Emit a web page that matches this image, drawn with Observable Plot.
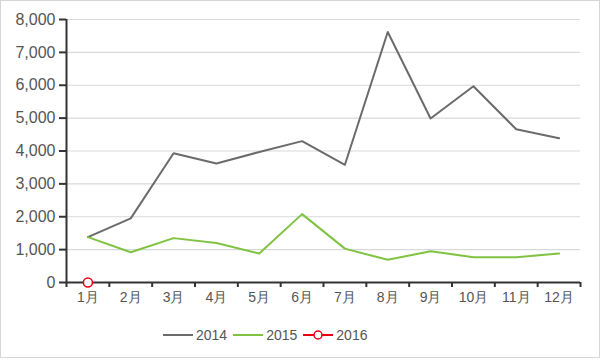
<!DOCTYPE html>
<html><head><meta charset="utf-8">
<script src="https://cdn.jsdelivr.net/npm/d3@7"></script>
<script src="https://cdn.jsdelivr.net/npm/@observablehq/plot@0.6"></script>
<style>
body{margin:0;background:#fff;}
#frame{position:relative;width:598px;height:356px;border:1px solid #d6d6d6;background:#fff;overflow:hidden;font-family:"Liberation Sans",Arial,sans-serif;}
#legend{height:46px;display:flex;align-items:center;justify-content:flex-start;padding-left:162px;font-size:14px;color:#555;}
.item{display:flex;align-items:center;margin-right:6px;}
.item svg{margin-right:3px;}
</style>
</head><body>
<div id="frame"><div id="chart"></div><div id="legend"></div></div>
<script>
const months = ["1月","2月","3月","4月","5月","6月","7月","8月","9月","10月","11月","12月"];
const sales2014 = [1380,1950,3930,3620,3970,4300,3580,7620,4990,5970,4660,4390];
const sales2015 = [1380,920,1350,1200,880,2080,1030,690,950,770,770,880];
const sales2016 = [0];
const yTicks = [0,1000,2000,3000,4000,5000,6000,7000,8000];
const seriesNames = ["2014","2015","2016"];
const colors = ["#6b6b6b","#80c241","#e60012"];

const idx = months.map((m,i)=>i);
const bounds = d3.range(-0.5, 12, 1);

const chart = Plot.plot({
  width: 598, height: 311,
  marginLeft: 65, marginRight: 19, marginTop: 18, marginBottom: 30,
  style: {fontFamily: '"Liberation Sans", Arial, sans-serif', color: "#555", background: "#fff"},
  x: {type: "linear", domain: [-0.5, 11.5]},
  y: {domain: [0, 8000]},
  marks: [
    Plot.gridY(yTicks, {stroke: "#d9d9d9", strokeOpacity: 1, strokeWidth: 1.2}),
    Plot.axisY(yTicks, {tickSize: 7, tickPadding: 4, tickFormat: d3.format(","), fontSize: 16, stroke: "#333", strokeWidth: 2, fill: "#555", label: null}),
    Plot.axisX(idx, {tickSize: 0, tickPadding: 10, tickFormat: i => months[i], fontSize: 14, fill: "#555", label: null}),
    Plot.axisX(bounds, {tickSize: 5, tickFormat: () => "", stroke: "#333", strokeWidth: 2, label: null}),
    Plot.ruleX([-0.5], {stroke: "#333", strokeWidth: 2}),
    Plot.ruleY([0], {stroke: "#333", strokeWidth: 2}),
    Plot.line(idx, {x: i => i, y: i => sales2014[i], stroke: colors[0], strokeWidth: 2}),
    Plot.line(idx, {x: i => i, y: i => sales2015[i], stroke: colors[1], strokeWidth: 2}),
    Plot.dot(sales2016, {x: (d,i) => i, y: d => d, r: 4.5, stroke: colors[2], strokeWidth: 1.5, fill: "#fff"})
  ]
});
document.getElementById("chart").appendChild(chart);

const legend = document.getElementById("legend");
seriesNames.forEach((name, k) => {
  const item = document.createElement("div");
  item.className = "item";
  const marker = k === 2
    ? `<circle cx="15" cy="6" r="4" fill="#fff" stroke="${colors[k]}" stroke-width="1.5"/>`
    : "";
  item.innerHTML = `<svg width="30" height="12"><line x1="0" x2="30" y1="6" y2="6" stroke="${colors[k]}" stroke-width="2"/>${marker}</svg><span>${name}</span>`;
  legend.appendChild(item);
});
</script>
</body></html>
